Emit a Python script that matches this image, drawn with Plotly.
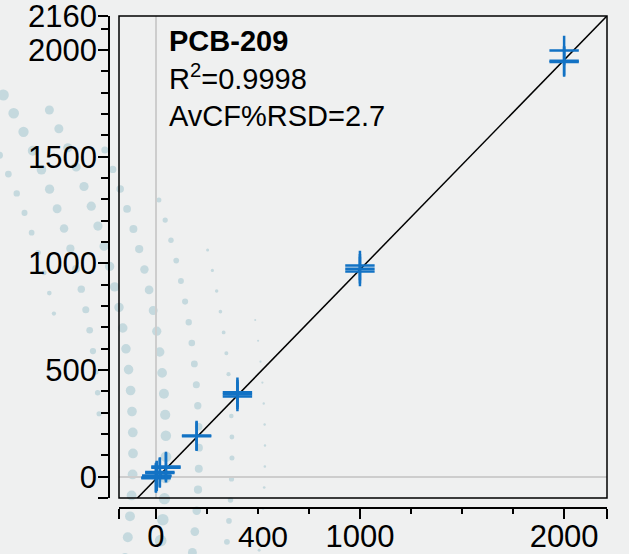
import math
import plotly.graph_objects as go

# ---------------- data ----------------
compound = "PCB-209"
r_squared = "0.9998"
avcf_rsd = "2.7"

x_conc = [1, 1, 5, 5, 20, 20, 50, 50, 200, 200, 400, 400, 400,
          1000, 1000, 1000, 2000, 2000, 2000]
y_resp = [-4, -7, 6, 2, 22, 17, 48, 42, 193, 189, 396, 386, 376,
          990, 975, 962, 1998, 1950, 1944]

fit_slope = 0.983
fit_intercept = -12.0

x_range = [-180, 2210]
y_range = [-100, 2160]
x_tick_vals = [-180, 0, 1000, 2000, 2210]
x_tick_text = ["", "0", "1000", "2000", ""]
y_tick_vals = [-100, 0, 500, 1000, 1500, 2000, 2160]
y_tick_text = ["", "0", "500", "1000", "1500", "2000", "2160"]
extra_x_label = "400"
extra_x_label_at = 525

# ---------------- figure ----------------
W, H = 629, 554
ML, MR, MT, MB = 109, 22, 16, 46
PW, PH = W - ML - MR, H - MT - MB
BLUE = "#1272c4"
FONT = "Liberation Sans, Arial, sans-serif"

fig = go.Figure()

fit_x = list(x_range)
fit_y = [fit_slope * v + fit_intercept for v in fit_x]
fig.add_trace(go.Scatter(x=fit_x, y=fit_y, mode="lines",
                         line=dict(color="black", width=1.5),
                         hoverinfo="skip", showlegend=False))
fig.add_trace(go.Scatter(x=x_conc, y=y_resp, mode="markers",
                         marker=dict(symbol="cross-thin", size=21,
                                     line=dict(color=BLUE, width=2.5)),
                         showlegend=False))

# decorative halftone dots of the background (paper coordinates)
def px2paper(X, Y):
    return (X - ML) / PW, (H - MB - Y) / PH

shapes = []
cx, cy = -600.0, 450.0
# radius, y start, y end, dot size at start, dot size at end
arcs = [(668, 100, 330, 8, 4), (700, 95, 420, 11, 5), (733, 110, 560, 9, 10),
        (766, 150, 560, 7, 12), (799, 200, 560, 5, 9), (832, 250, 560, 3, 6),
        (865, 320, 560, 2, 3)]
for R, ys, ye, ds, de in arcs:
    step = 21.0 / R
    th = math.asin(max(-1, min(1, (ys - cy) / R)))
    while True:
        X = cx + R * math.cos(th)
        Y = cy + R * math.sin(th)
        if Y > ye:
            break
        t = (Y - ys) / (ye - ys)
        dd = ds + (de - ds) * t
        x0, y0 = px2paper(X - dd / 2, Y + dd / 2)
        x1, y1 = px2paper(X + dd / 2, Y - dd / 2)
        shapes.append(dict(type="circle", xref="paper", yref="paper",
                           x0=x0, y0=y0, x1=x1, y1=y1, layer="below",
                           fillcolor="rgb(192,214,220)", opacity=0.9,
                           line=dict(width=0)))
        th += step

shapes.append(dict(type="rect", xref="x domain", yref="y domain",
                   x0=0, x1=1, y0=0, y1=1, line=dict(color="black", width=1.5),
                   layer="above"))

axis_common = dict(showgrid=False, showline=True, linecolor="black", linewidth=1.5,
                   ticks="outside", tickcolor="black", tickwidth=1.5,
                   tickfont=dict(family=FONT, size=31, color="black"),
                   zeroline=True, zerolinecolor="#cdcdcd", zerolinewidth=1.5,
                   tickmode="array", anchor="free", position=0,
                   automargin=False, ticklabeloverflow="allow")

fig.update_layout(
    width=W, height=H, autosize=False,
    margin=dict(l=ML, r=MR, t=MT, b=MB, pad=0),
    paper_bgcolor="#eff0f0", plot_bgcolor="rgba(0,0,0,0)",
    xaxis=dict(axis_common, range=x_range, domain=[10 / PW, 1],
               tickvals=x_tick_vals, ticktext=x_tick_text, ticklen=10,
               ticklabelstandoff=-9,
               minor=dict(ticks="outside", ticklen=5, tick0=0, dtick=250,
                          tickcolor="black", tickwidth=1.5, showgrid=False)),
    yaxis=dict(axis_common, range=y_range, domain=[10 / PH, 1],
               tickvals=y_tick_vals, ticktext=y_tick_text, ticklen=10,
               ticklabelstandoff=-5,
               minor=dict(ticks="outside", ticklen=7, tick0=0, dtick=100,
                          tickcolor="black", tickwidth=1.5, showgrid=False)),
    shapes=shapes,
    annotations=[
        dict(xref="x domain", yref="y domain", x=0.098, y=0.985,
             xanchor="left", yanchor="top", align="left", showarrow=False,
             text=f"<b>{compound}</b><br>R<sup>2</sup>={r_squared}<br>AvCF%RSD={avcf_rsd}",
             font=dict(family=FONT, size=29, color="black")),
        dict(xref="x", yref="paper", x=extra_x_label_at, y=-0.058,
             xanchor="center", yanchor="middle", showarrow=False,
             text=extra_x_label, font=dict(family=FONT, size=30, color="black")),
    ],
)

fig.write_html("out.html")
